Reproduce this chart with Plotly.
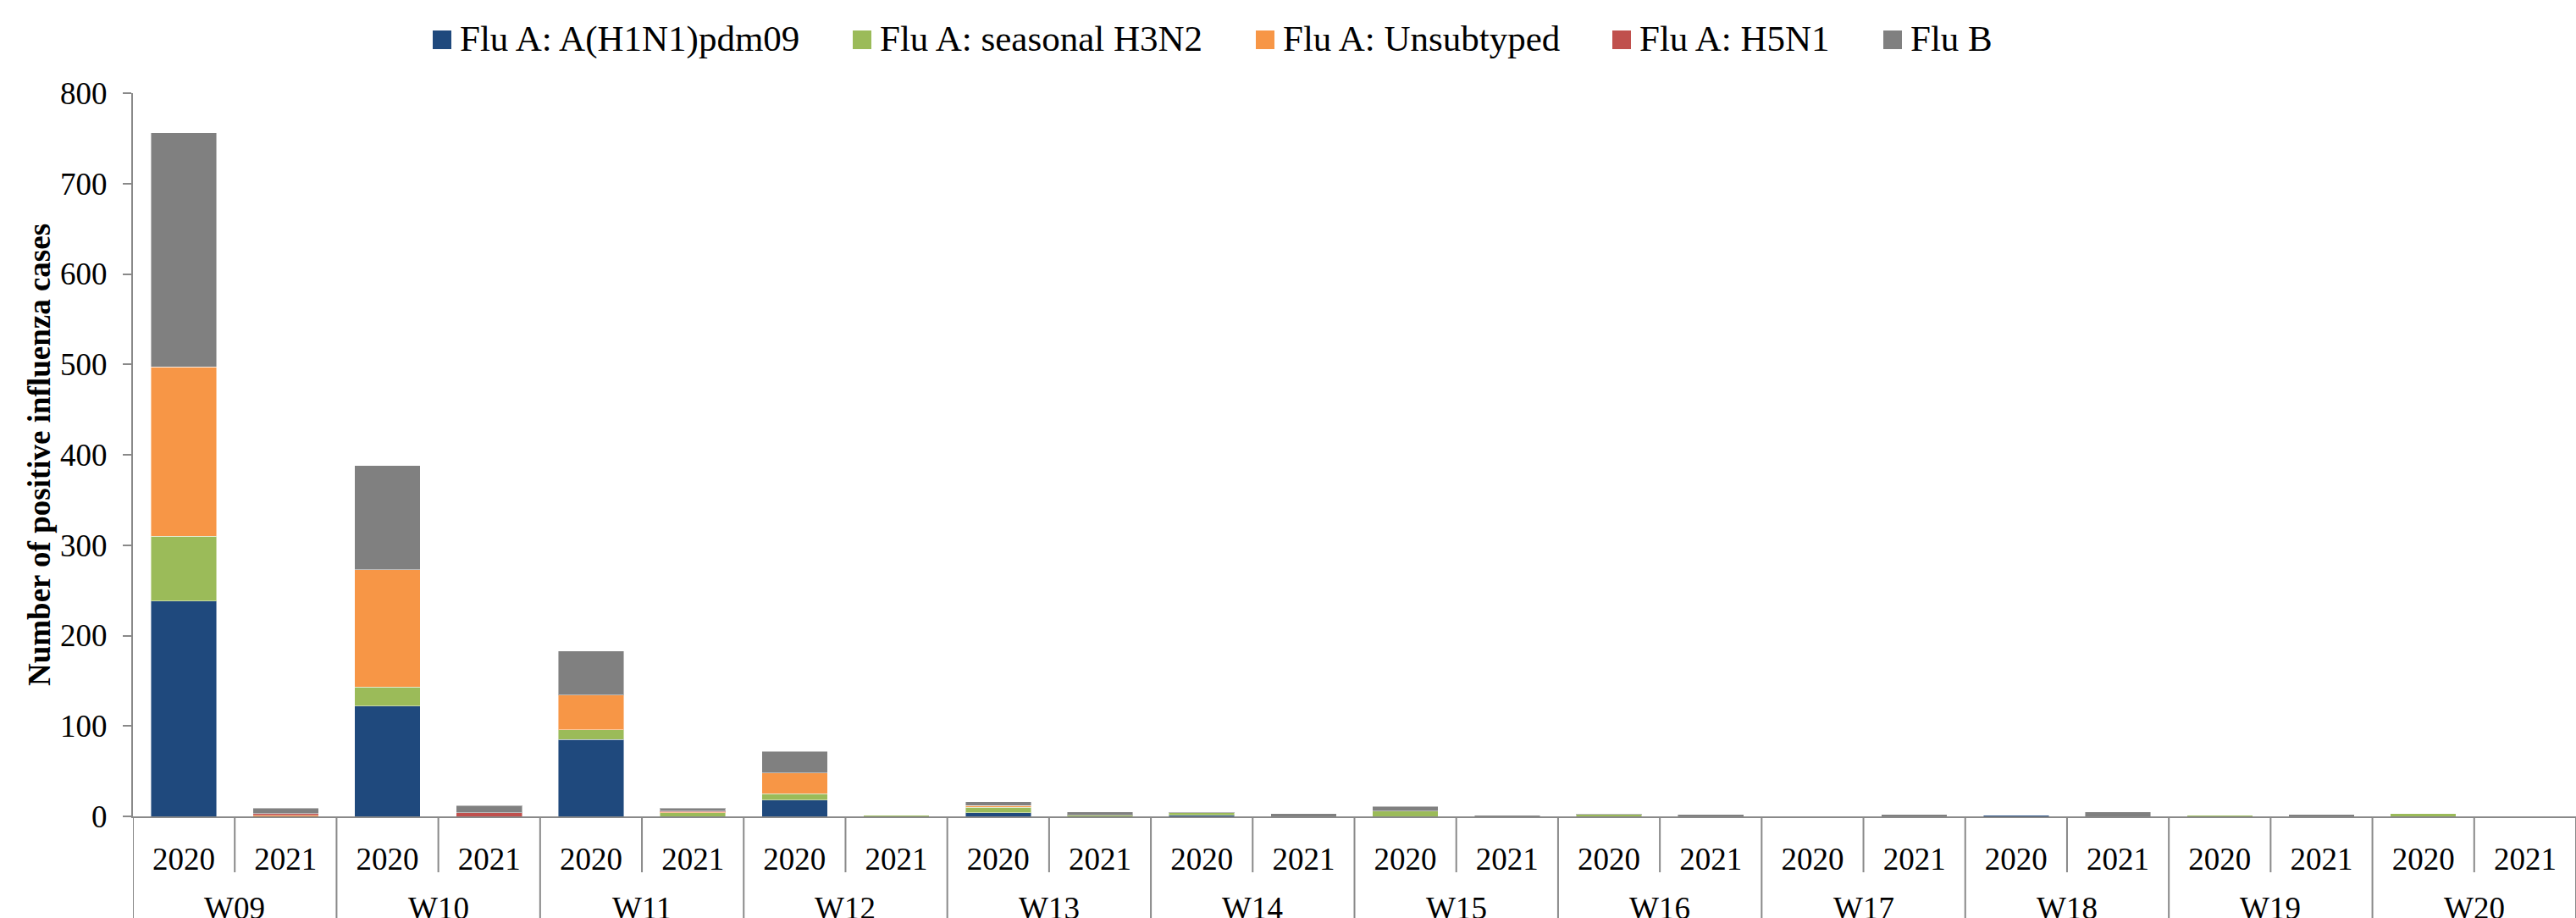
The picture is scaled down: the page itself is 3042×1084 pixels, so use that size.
import plotly.graph_objects as go

# ---- data ----
weeks = ["W09", "W10", "W11", "W12", "W13", "W14", "W15", "W16", "W17", "W18", "W19", "W20"]
years = ["2020", "2021"]

series_names = ["Flu A: A(H1N1)pdm09", "Flu A: seasonal H3N2", "Flu A: Unsubtyped", "Flu A: H5N1", "Flu B"]
series_colors = ["#1F497D", "#9BBB59", "#F79646", "#C0504D", "#808080"]

h1n1 = [238, 0, 122, 0, 85, 0, 18, 0, 4, 0, 1, 0, 0, 0, 0, 0, 0, 0, 1, 0, 0, 0, 0, 0]
h3n2 = [72, 0, 21, 0, 11, 4, 7, 1, 6, 1, 3, 0, 6, 0, 2, 0, 0, 0, 0, 0, 1, 0, 3, 0]
unsub = [187, 1, 130, 0, 38, 1, 23, 0, 2, 0, 0, 0, 0, 0, 0, 0, 0, 0, 0, 0, 0, 0, 0, 0]
h5n1 = [0, 2, 0, 4, 0, 1, 0, 0, 0, 0, 0, 0, 0, 0, 0, 0, 0, 0, 0, 0, 0, 0, 0, 0]
flub = [259, 6, 115, 8, 49, 3, 24, 0, 4, 4, 1, 3, 5, 1, 1, 2, 0, 2, 0, 5, 0, 2, 0, 0]

y_ticks = [0, 100, 200, 300, 400, 500, 600, 700, 800]
y_title = "Number of positive influenza cases"

# ---- geometry (pixels) ----
W, H = 3042, 1084
ML, MR, MT, MB = 157, 0, 110, 120
PW, PH = W - ML - MR, H - MT - MB

FONT = "Liberation Serif, Times New Roman, serif"
AXC = "#898989"

# unique category keys (week + year), labelled by year on the axis
cat_keys = [f"{w} {y}" for w in weeks for y in years]
cat_labels = [y for _ in weeks for y in years]

fig = go.Figure()
for name, color, vals in zip(series_names, series_colors, [h1n1, h3n2, unsub, h5n1, flub]):
    fig.add_trace(go.Bar(
        x=cat_keys, y=vals, name=name,
        marker=dict(color=color, line=dict(width=1, color="rgba(255,255,255,0.45)")),
        showlegend=False,
    ))

shapes = []
annotations = []

# ---- manual legend (squares + text) ----
leg_marker_px = [511, 1007, 1483, 1904, 2224]
leg_cy = 47
sq = 22
for px, name, color in zip(leg_marker_px, series_names, series_colors):
    shapes.append(dict(
        type="rect", xref="paper", yref="paper",
        x0=(px - ML) / PW, x1=(px + sq - ML) / PW,
        y0=(H - MB - (leg_cy + sq / 2)) / PH, y1=(H - MB - (leg_cy - sq / 2)) / PH,
        fillcolor=color, line=dict(width=0),
    ))
    annotations.append(dict(
        text=name, xref="paper", yref="paper",
        x=(px + 30 - ML) / PW, y=(H - MB - (leg_cy - 1)) / PH,
        xanchor="left", yanchor="middle", showarrow=False,
        font=dict(family=FONT, size=43, color="black"),
    ))

# ---- category separators & week labels below the axis ----
short_len = 66 / PH
long_len = 200 / PH
n = len(cat_keys)
for k in range(n + 1):
    pos = k - 0.5
    is_week_boundary = (k % len(years) == 0)
    shapes.append(dict(
        type="line", xref="x", yref="paper",
        x0=pos, x1=pos, y0=0, y1=-(long_len if is_week_boundary else short_len),
        line=dict(color=AXC, width=2),
    ))
for i, w in enumerate(weeks):
    annotations.append(dict(
        text=w, xref="x", yref="paper",
        x=i * len(years) + (len(years) - 1) / 2, y=-(1072 - (H - MB)) / PH,
        xanchor="center", yanchor="middle", showarrow=False,
        font=dict(family=FONT, size=37, color="black"),
    ))

fig.update_layout(
    width=W, height=H, autosize=False,
    margin=dict(l=ML, r=MR, t=MT, b=MB, pad=0),
    paper_bgcolor="white", plot_bgcolor="white",
    barmode="stack", bargap=0.355,
    font=dict(family=FONT, size=37, color="black"),
    showlegend=False,
    shapes=shapes, annotations=annotations,
    xaxis=dict(
        type="category", tickvals=cat_keys, ticktext=cat_labels,
        range=[-0.5, n - 0.5],
        showline=True, linecolor=AXC, linewidth=2,
        ticks="", ticklabelstandoff=17,
        tickfont=dict(family=FONT, size=37, color="black"),
        showgrid=False,
    ),
    yaxis=dict(
        range=[0, 800], tickvals=y_ticks,
        showline=True, linecolor=AXC, linewidth=2,
        ticks="outside", ticklen=10, tickcolor=AXC, tickwidth=2,
        ticklabelstandoff=11,
        showgrid=False, zeroline=False,
        tickfont=dict(family=FONT, size=37, color="black"),
        title=dict(text=y_title, standoff=0,
                   font=dict(family=FONT, size=37, color="black", weight="bold")),
    ),
)

fig.write_html("out.html", config={"displayModeBar": False},
               post_script="document.body.style.margin='0';document.body.style.overflow='hidden';")
